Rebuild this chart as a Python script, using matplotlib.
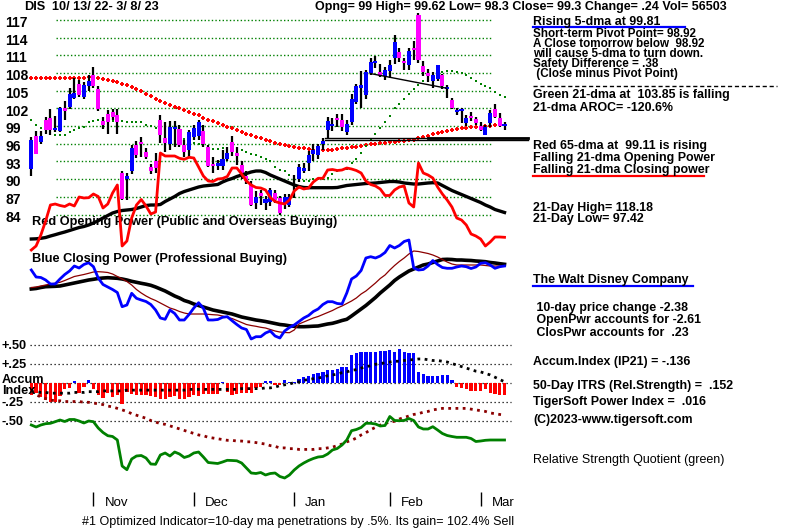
import matplotlib
matplotlib.use("Agg")
import matplotlib.pyplot as plt
from matplotlib.lines import Line2D
import numpy as np

# ---------------- data ----------------
days = np.arange(100)
month_starts = [13, 34, 55, 75, 94]
month_labels = ["Nov", "Dec", "Jan", "Feb", "Mar"]
price_levels = [84, 87, 90, 93, 96, 99, 102, 105, 108, 111, 114, 117]

opens = [91.7, 97.3, 96.3, 100.0, 100.4, 98.3, 98.2, 102.0, 102.3, 103.8,
         106.1, 103.9, 105.8, 107.6, 105.3, 99.8, 101.0, 101.4, 100.9, 91.0,
         90.0, 91.4, 95.8, 96.1, 94.6, 92.0, 93.0, 100.0, 97.0, 96.0,
         98.5, 98.5, 95.8, 95.0, 97.1, 97.3, 98.2, 95.4, 92.4, 92.3,
         92.2, 93.4, 96.3, 94.5, 92.4, 90.5, 89.2, 85.9, 87.6, 86.0,
         86.2, 87.6, 86.8, 85.9, 85.6, 88.9, 90.1, 91.3, 92.7, 94.2,
         94.1, 95.9, 98.3, 99.0, 100.3, 100.0, 97.9, 99.7, 103.0, 105.5,
         104.3, 108.0, 109.6, 108.2, 107.4, 108.3, 110.5, 111.5, 110.0, 109.4,
         112.2, 117.8, 109.1, 107.9, 106.7, 107.0, 107.6, 105.2, 103.4, 101.3,
         101.5, 99.5, 100.7, 100.2, 99.0, 97.5, 99.5, 101.9, 100.3, 99.0]
highs = [97.1, 98.2, 98.2, 100.6, 101.9, 100.7, 102.3, 103.2, 105.4, 107.1,
         106.8, 106.5, 107.6, 109.0, 105.8, 100.6, 101.7, 101.8, 101.8, 91.3,
         91.0, 95.7, 96.5, 97.1, 95.2, 92.6, 94.4, 100.9, 99.6, 99.8,
         99.9, 99.2, 96.6, 98.4, 99.2, 100.0, 99.2, 95.8, 93.8, 93.3,
         95.0, 95.4, 97.3, 95.4, 93.0, 91.3, 89.6, 88.0, 88.2, 87.2,
         88.5, 88.2, 87.2, 87.4, 87.5, 90.7, 92.6, 92.8, 94.8, 95.9,
         95.9, 96.9, 100.6, 100.3, 101.0, 101.0, 100.0, 104.5, 106.2, 108.4,
         108.5, 110.5, 110.8, 109.5, 109.0, 110.2, 114.4, 112.2, 110.6, 112.3,
         113.4, 118.2, 110.0, 108.6, 108.2, 109.3, 107.8, 106.0, 103.8, 102.0,
         102.0, 100.8, 101.4, 100.6, 99.6, 99.2, 101.7, 102.8, 101.2, 99.62]
lows = [90.6, 94.2, 96.0, 97.6, 97.5, 98.0, 97.9, 100.0, 101.9, 103.5,
        103.9, 103.5, 105.0, 105.5, 101.6, 98.5, 97.7, 100.0, 97.7, 86.5,
        86.5, 90.9, 93.5, 93.7, 93.4, 90.8, 91.0, 96.2, 94.6, 94.9,
        95.4, 95.4, 93.8, 93.8, 96.6, 96.6, 95.4, 92.1, 91.1, 91.5,
        91.5, 93.0, 94.0, 92.4, 90.0, 89.2, 85.5, 85.0, 85.6, 84.7,
        85.5, 86.0, 84.0, 85.0, 85.2, 86.8, 89.5, 91.0, 91.3, 93.0,
        93.4, 94.9, 96.9, 98.2, 98.9, 98.1, 97.5, 99.2, 102.7, 102.0,
        103.5, 107.6, 108.8, 107.3, 106.8, 107.1, 109.5, 109.9, 108.5, 108.5,
        110.2, 109.6, 107.5, 106.5, 105.5, 106.6, 105.3, 103.8, 101.8, 100.9,
        99.5, 99.0, 99.9, 99.1, 98.2, 97.42, 98.8, 100.3, 98.8, 98.3]
closes = [96.6, 94.3, 97.3, 98.3, 98.3, 98.7, 102.0, 101.6, 104.5, 104.6,
          104.2, 105.9, 106.6, 105.8, 101.8, 99.2, 99.6, 100.5, 99.7, 86.7,
          90.5, 95.2, 94.1, 95.9, 93.7, 91.4, 91.8, 97.5, 96.2, 98.9,
          98.7, 95.8, 94.6, 97.9, 98.6, 99.6, 96.0, 92.2, 92.2, 92.5,
          93.4, 94.5, 94.6, 93.9, 90.7, 89.6, 85.6, 87.0, 87.2, 86.6,
          88.2, 86.5, 84.3, 87.0, 87.0, 89.1, 92.1, 91.9, 94.0, 94.9,
          95.6, 96.5, 99.8, 99.4, 100.0, 98.9, 99.3, 103.6, 105.8, 106.0,
          108.1, 109.8, 109.9, 107.5, 108.5, 109.3, 113.2, 110.5, 109.7, 111.7,
          111.8, 110.2, 108.1, 107.5, 107.6, 109.3, 105.7, 105.4, 102.1, 101.7,
          101.6, 100.4, 100.4, 99.5, 98.3, 98.9, 101.2, 100.6, 99.06, 99.3]

ma65 = [107.1, 107.1, 107.2, 107.2, 107.2, 107.1, 107.1, 107.1, 107.1, 107.2,
        107.2, 107.2, 107.3, 107.3, 107.2, 107.0, 106.8, 106.6, 106.4, 106.1,
        105.9, 105.6, 105.3, 104.9, 104.5, 104.1, 103.6, 103.2, 102.9, 102.6,
        102.3, 102.0, 101.7, 101.4, 101.1, 100.8, 100.4, 100.1, 99.8, 99.5,
        99.2, 98.9, 98.6, 98.3, 98.0, 97.7, 97.4, 97.1, 96.9, 96.6,
        96.4, 96.2, 96.0, 95.8, 95.6, 95.4, 95.3, 95.2, 95.1, 95.0,
        94.9, 94.9, 95.0, 95.0, 95.1, 95.2, 95.3, 95.4, 95.5, 95.6,
        95.8, 95.9, 96.0, 96.1, 96.2, 96.3, 96.3, 96.4, 96.5, 96.6,
        96.7, 96.9, 97.1, 97.3, 97.6, 97.8, 98.0, 98.2, 98.4, 98.5,
        98.6, 98.7, 98.8, 98.9, 98.9, 99.0, 99.0, 99.1, 99.1, 99.11]
ma21 = [100.0, 99.2, 98.6, 97.9, 97.8, 97.5, 97.5, 97.5, 97.9, 98.3,
        98.6, 98.9, 99.6, 99.9, 100.0, 100.0, 99.9, 99.9, 99.8, 99.8,
        99.7, 99.7, 99.7, 99.7, 99.2, 99.0, 98.7, 98.5, 98.2, 97.7,
        97.2, 97.0, 96.8, 96.4, 96.1, 95.9, 95.6, 95.3, 95.1, 95.1,
        95.2, 95.2, 95.2, 95.1, 94.9, 94.6, 94.3, 94.1, 93.8, 93.4,
        93.0, 92.1, 91.5, 91.3, 90.7, 90.1, 89.7, 89.7, 89.7, 90.0,
        90.1, 90.1, 90.2, 90.8, 91.4, 91.5, 91.7, 92.7, 93.4, 94.5,
        95.6, 96.6, 97.6, 98.7, 99.7, 100.7, 102.0, 102.8, 103.6, 104.4,
        105.3, 106.0, 106.7, 107.4, 107.8, 108.1, 108.2, 108.3, 108.3, 108.1,
        107.9, 107.6, 107.2, 106.7, 106.2, 105.8, 105.5, 104.8, 104.3, 103.85]

# Opening power (arbitrary index units) and its moving average
open_power = [0, 4, 15, 29, 45, 46, 44.5, 43.5, 46, 44,
              53, 52, 52.3, 56, 53.5, 42, 46, 57, 65, 4,
              9, 32, 45, 50.5, 44, 36, 38, 97, 94, 94,
              94, 91.7, 90.7, 92.7, 92, 83, 74, 69, 68.5, 71,
              71.5, 73.5, 82, 82, 76, 69, 65, 62.5, 62, 60,
              52.5, 48.5, 47, 46, 50, 59, 63, 61, 62, 68,
              71.7, 71.7, 80, 80.5, 79.5, 80, 82, 81, 79.5, 77,
              69, 65.5, 64, 61, 54.5, 54.5, 60, 63, 64, 47,
              43, 87, 77, 75, 72, 63, 56, 50, 43, 32,
              30, 25, 16, 14, 11, 4, 8, 13, 13, 12.7]
open_power_ma = [11, 11.2, 11.7, 12.5, 14, 15.3, 16.7, 18, 19.5, 21,
                 22.5, 23.5, 25, 27, 29.3, 32, 34.5, 37, 38.5, 39.5,
                 40, 40.5, 41.5, 43, 44.5, 45, 45, 45.5, 48.5, 51,
                 53.5, 56.5, 58.5, 60, 61.5, 63, 64, 64.5, 65, 65.5,
                 68, 70, 71.5, 73.5, 75, 76.5, 78, 79, 79, 77.5,
                 75, 73, 71, 69, 67, 65, 63.5, 62.5, 62.3, 62.3,
                 62.3, 62.3, 62.3, 62.3, 62.5, 63.5, 64.5, 65, 65.5, 66,
                 66.5, 66.7, 67, 67.5, 68, 68.5, 68.5, 68, 67, 66.5,
                 66, 66, 66.5, 67, 67.3, 67, 64.5, 62, 59.5, 57.5,
                 55.5, 53.5, 51.5, 49.5, 47.5, 45, 43, 40.5, 39, 37.5]

# Closing power (arbitrary index units), its long MA (black) and short MA (dark red)
close_power = [70, 63, 62.5, 60, 56, 56, 61, 65.5, 69, 74,
               72, 75.5, 77.3, 73.3, 62, 55.5, 53, 50.5, 47.5, 33.3,
               35, 46.7, 41.7, 40, 38.5, 35.5, 30, 22, 20.7, 30,
               26.5, 20, 20, 25.5, 32, 37.3, 31.7, 20, 20, 20.5,
               22.7, 23.3, 19.3, 15.5, 12, 10.5, 1, 3.3, 3.3, 7,
               9, 4, 2, 9, 12.5, 15, 18.5, 22, 24.5, 28.5,
               31, 35.5, 38.3, 38.3, 36.5, 36, 47, 61, 64, 69.5,
               82, 83.3, 82, 84, 87.5, 94.5, 92, 94.5, 98.5, 100,
               72, 70, 70.5, 74, 79.5, 75.5, 72.5, 71.7, 71.7, 73,
               74, 73.3, 71.5, 73, 76.7, 77.3, 75, 71.7, 73.3, 74]
close_power_ma_long = [51, 51.5, 52.5, 53.3, 53.5, 53.7, 54, 55, 56, 57,
                       58, 59, 60, 60.7, 61.5, 62, 62.3, 62, 61.7, 61,
                       60, 58.7, 57.7, 56.7, 55.8, 54.7, 53, 51, 49, 46.5,
                       44, 42, 39.5, 38, 36, 34.5, 33, 31.5, 30, 29,
                       28, 27, 26, 24.5, 23, 22, 21, 20, 19.3, 18.5,
                       17.5, 16.5, 15.5, 15, 14.2, 13.7, 13.3, 13.3, 13.5, 13.8,
                       14, 15, 16, 16.7, 18, 19.5, 20.7, 24, 27.5, 31,
                       34.5, 38.5, 42.5, 47, 51, 55, 59.5, 63, 66, 69,
                       71, 73, 75, 76, 77.5, 79, 80.5, 80.7, 80.5, 80,
                       80, 79.7, 79.5, 79, 78.7, 78.3, 77.5, 77, 76.3, 75.7]
close_power_ma_short = [52.5, 53, 54, 55, 56, 56.8, 57.7, 59.5, 61.5, 63.5,
                        64.5, 65.5, 66.7, 68, 68.3, 68, 67.5, 66, 63.5, 61,
                        58.5, 55, 50.5, 47, 44, 41.5, 39.5, 37, 34.5, 32,
                        30.5, 28.5, 27, 26, 26, 26, 26, 25.7, 25.3, 25,
                        24, 22.5, 21.5, 19.5, 17.5, 15.5, 14.5, 13.7, 12.7, 12,
                        10.5, 9, 8, 7.5, 7.3, 10, 16, 18, 20, 22,
                        23.5, 25.5, 27.5, 29.5, 32, 34, 36.5, 39, 42, 46,
                        49, 53, 57, 61.5, 65, 70, 74.5, 78.5, 82, 86,
                        89, 88.5, 87.5, 86.5, 85, 83, 80.5, 78, 76, 75,
                        75, 75, 75, 75, 75, 74.5, 74, 74, 74, 74]

# Accumulation index (IP21) and its averages
accum = [-0.15, -0.13, -0.18, -0.22, -0.24, -0.24, -0.17, -0.07, -0.06, 0.03,
         -0.13, -0.05, 0.04, -0.08, -0.15, -0.19, -0.13, -0.18, -0.16, -0.27,
         -0.12, -0.14, -0.16, -0.16, -0.15, -0.17, -0.18, -0.21, -0.21, -0.18,
         -0.17, -0.20, -0.21, -0.18, -0.15, -0.17, -0.14, -0.14, -0.14, -0.14,
         0.02, -0.12, -0.15, -0.14, -0.13, -0.13, -0.13, -0.06, -0.05, 0.03,
         0.03, -0.02, -0.02, 0.04, 0.02, 0.02, 0.06, 0.08, 0.10, 0.12,
         0.13, 0.15, 0.17, 0.18, 0.19, 0.21, 0.22, 0.37, 0.40, 0.41,
         0.41, 0.41, 0.41, 0.42, 0.43, 0.44, 0.41, 0.45, 0.41, 0.40,
         0.40, 0.15, 0.12, 0.09, 0.10, 0.10, 0.11, 0.11, 0.04, -0.05,
         -0.06, -0.08, -0.10, -0.10, -0.10, -0.08, -0.13, -0.14, -0.15, -0.16]
accum_ma = [-0.11, -0.11, -0.12, -0.12, -0.13, -0.13, -0.13, -0.13, -0.13, -0.12,
            -0.12, -0.12, -0.11, -0.11, -0.11, -0.10, -0.10, -0.10, -0.10, -0.10,
            -0.09, -0.09, -0.09, -0.09, -0.09, -0.09, -0.09, -0.09, -0.09, -0.09,
            -0.09, -0.09, -0.09, -0.08, -0.08, -0.08, -0.08, -0.08, -0.08, -0.08,
            -0.08, -0.08, -0.08, -0.08, -0.07, -0.07, -0.07, -0.07, -0.07, -0.06,
            -0.06, -0.05, -0.03, -0.02, -0.01, 0.01, 0.02, 0.04, 0.05, 0.06,
            0.07, 0.08, 0.10, 0.11, 0.12, 0.14, 0.15, 0.17, 0.18, 0.20,
            0.22, 0.23, 0.25, 0.26, 0.27, 0.28, 0.29, 0.29, 0.30, 0.31,
            0.31, 0.32, 0.32, 0.31, 0.30, 0.30, 0.29, 0.28, 0.26, 0.24,
            0.22, 0.20, 0.18, 0.16, 0.15, 0.13, 0.11, 0.08, 0.05, 0.02]
accum_long = [-0.11, -0.15, -0.18, -0.20, -0.22, -0.23, -0.23, -0.24, -0.24, -0.24,
              -0.24, -0.25, -0.25, -0.26, -0.27, -0.28, -0.30, -0.31, -0.33, -0.35,
              -0.37, -0.40, -0.42, -0.44, -0.46, -0.49, -0.51, -0.53, -0.54, -0.56,
              -0.58, -0.60, -0.62, -0.64, -0.66, -0.68, -0.69, -0.71, -0.72, -0.73,
              -0.74, -0.75, -0.75, -0.76, -0.76, -0.77, -0.77, -0.78, -0.79, -0.80,
              -0.82, -0.83, -0.85, -0.85, -0.86, -0.86, -0.87, -0.87, -0.87, -0.87,
              -0.86, -0.86, -0.85, -0.84, -0.82, -0.80, -0.77, -0.75, -0.72, -0.68,
              -0.65, -0.61, -0.58, -0.55, -0.53, -0.51, -0.50, -0.47, -0.45, -0.43,
              -0.41, -0.40, -0.38, -0.37, -0.35, -0.34, -0.33, -0.33, -0.33, -0.33,
              -0.33, -0.33, -0.34, -0.35, -0.36, -0.37, -0.39, -0.40, -0.41, -0.42]
accum_levels = [0.5, 0.25, 0.0, -0.25, -0.5]

# Relative strength quotient (arbitrary units)
rsq = [75, 73, 75, 76.3, 76.7, 78.3, 80, 78.5, 80.5, 80.5,
       79, 77, 79, 78.3, 72, 67.5, 64.3, 63.5, 60, 34,
       30.3, 41, 44, 44.5, 42, 36, 35.7, 45, 47, 44,
       48, 46, 42.5, 44, 47, 48, 43, 37.5, 37, 36.5,
       38, 39.7, 39.5, 39.2, 37, 32, 27, 26.5, 27.5, 25,
       26.5, 27, 23.5, 22, 25, 30, 34, 37, 39.5, 41.5,
       43, 43.5, 46, 50, 51.5, 55, 60, 69.3, 70.5, 72.5,
       76.7, 76.7, 76, 74, 74.5, 83.5, 79.5, 79.3, 79.5, 81.5,
       79.5, 73, 71, 71, 73.3, 70, 66.5, 64.5, 63.5, 62.7,
       62.7, 62.7, 61.5, 58.5, 59, 59.7, 60, 60, 60, 60]

# trendlines drawn on the price panel (day, price)
support_days = [61.5, 104.0]
support_upper = [97.0, 97.0]
support_lower = [96.6, 96.6]
support_heavy_days = [83.0, 104.0]
neck_days = [70.9, 86.9]
neck_prices = [107.9, 105.4]

# ---------------- figure ----------------
W, H = 800, 530
fig = plt.figure(figsize=(8, 5.3), dpi=100)
fig.patch.set_facecolor("white")

PX0, PXD = 31.3, 4.78          # pixel position of day 0, pixels per day
XL = (-PX0 / PXD, (W - PX0) / PXD)


def make_ax(ylim, z):
    ax = fig.add_axes([0, 0, 1, 1], zorder=z)
    ax.set_xlim(*XL)
    ax.set_ylim(*ylim)
    ax.axis("off")
    ax.patch.set_alpha(0)
    return ax


ax_p = make_ax((99 - (H - 126) / 5.9, 99 + 126 / 5.9), 3)
ax_op = make_ax((250 - H, 250), 4)
ax_cp = make_ax((340 - H, 340), 2)
ax_ac = make_ax(((383.3 - H) / 76.0, 383.3 / 76.0), 2)
ax_rs = make_ax((500 - H, 500), 2)

FONT = ["Liberation Sans", "DejaVu Sans"]
GREEN = "#008000"

# price grid
ax_p.hlines(price_levels, 5.2, 96.2, colors=GREEN, linestyles=(0, (1, 1.6)), lw=1.0, zorder=1)
for lv in price_levels:
    ax_p.text(5 / W, lv - 0.55, str(lv), transform=ax_p.get_yaxis_transform(),
              family=FONT, weight="bold", fontsize=10, va="center", ha="left")

# moving averages on price
ax_p.plot(days, ma65, ls="none", marker="+", ms=2.8, mew=1.4, color="#ff0000", zorder=2)
ax_p.plot(days, ma21, ls="none", marker="s", ms=1.8, mew=0, color=GREEN, zorder=2)

# candles
o = np.array(opens); c = np.array(closes); hi = np.array(highs); lo = np.array(lows)
up = c >= o
ax_p.vlines(days, lo, hi, colors="black", lw=1.6, zorder=3)
body_lo = np.minimum(o, c)
body_h = np.maximum(np.abs(c - o), 0.35)
ax_p.bar(days[up], body_h[up], bottom=body_lo[up], width=0.85, color="#0000ff", zorder=4)
ax_p.bar(days[~up], body_h[~up], bottom=body_lo[~up], width=0.85, color="#ff00ff", zorder=4)

# trendlines
ax_p.plot(support_days, support_upper, color="black", lw=1.0, zorder=5)
ax_p.plot(support_days, support_lower, color="black", lw=1.0, zorder=5)
ax_p.plot(support_heavy_days, support_upper, color="black", lw=2.0, zorder=5)
ax_p.plot(neck_days, neck_prices, color="black", lw=1.0, zorder=5)

# opening power
ax_op.plot(days, open_power_ma, color="black", lw=2.4, zorder=1)
ax_op.plot(days, open_power, color="#ff0000", lw=2.0, zorder=2)

# closing power
ax_cp.plot(days, close_power_ma_long, color="black", lw=2.6, zorder=1)
ax_cp.plot(days, close_power_ma_short, color="#8b0000", lw=0.9, zorder=2)
ax_cp.plot(days, close_power, color="#0000ff", lw=2.0, zorder=3)

# accumulation index
ax_ac.hlines(accum_levels, -0.3, 100.3, colors="black", linestyles=(0, (1, 2.2)), lw=0.9)
acc = np.array(accum)
ax_ac.bar(days, acc, width=0.68, color=np.where(acc >= 0, "#0000ff", "#ff0000"), zorder=2)
ax_ac.plot(days, accum_ma, color="black", lw=2.0, ls=(0, (1, 1.6)), zorder=3)
ax_ac.plot(days, accum_long, color="#8b0000", lw=2.0, ls=(0, (1, 1.6)), zorder=3)

# relative strength quotient
ax_rs.plot(days, rsq, color=GREEN, lw=2.0)

# month ticks & labels
ax_rs.vlines(month_starts, -6, 8, colors="black", lw=1.0)
for d, lab in zip(month_starts, month_labels):
    ax_rs.text(d + 2.3, -3.5, lab, family=FONT, fontsize=9.5, va="center", ha="left")


# ---------------- texts ----------------
def ftext(x, y, s, bold=True, size=8.9, color="black"):
    fig.text(x / W, 1 - y / H, s, family=FONT, weight="bold" if bold else "normal",
             fontsize=size, va="center", ha="left", color=color)


def fline(x0, x1, y, color, lw=1.5, ls="-"):
    fig.add_artist(Line2D([x0 / W, x1 / W], [1 - y / H, 1 - y / H], color=color,
                          lw=lw, ls=ls, transform=fig.transFigure))


ftext(24, 7, "DIS", size=9.2)
ftext(52, 7, "10/ 13/ 22- 3/ 8/ 23", size=9.2)
ftext(315, 7, "Opng= 99 High= 99.62 Low= 98.3 Close= 99.3 Change= .24 Vol= 56503", size=9.0)

right_texts = [
    ("Rising 5-dma at 99.81", 22, 8.9),
    ("Short-term Pivot Point= 98.92", 34, 8.4),
    ("A Close tomorrow below  98.92", 44.3, 8.4),
    ("will cause 5-dma to turn down.", 54.3, 8.4),
    ("Safety Difference = .38", 64.3, 8.4),
    (" (Close minus Pivot Point)", 74.5, 8.4),
    ("Green 21-dma at  103.85 is falling", 95, 8.9),
    ("21-dma AROC= -120.6%", 108, 8.9),
    ("Red 65-dma at  99.11 is rising", 146, 8.9),
    ("Falling 21-dma Opening Power", 158, 8.9),
    ("Falling 21-dma Closing power", 170.5, 8.9),
    ("21-Day High= 118.18", 207.5, 8.9),
    ("21-Day Low= 97.42", 219, 8.9),
    ("The Walt Disney Company", 280, 8.9),
    (" 10-day price change -2.38", 308, 8.9),
    (" OpenPwr accounts for -2.61", 320.5, 8.9),
    (" ClosPwr accounts for  .23", 333, 8.9),
    ("Accum.Index (IP21) = -.136", 361.5, 8.9),
    ("50-Day ITRS (Rel.Strength) =  .152", 386.5, 8.9),
    ("TigerSoft Power Index =  .016", 401.5, 8.9),
    ("(C)2023-www.tigersoft.com", 420, 8.9),
]
for s, y, sz in right_texts:
    ftext(533, y, s, size=sz)
ftext(533, 460, "Relative Strength Quotient (green)", bold=False, size=9.0)

fline(533, 685, 26.5, "#0000ff", lw=1.6)
fline(533, 777, 86, "black", lw=1.0, ls=(0, (3, 2)))
fline(533, 704, 176, "#ff0000", lw=1.6)
fline(533, 693, 286, "#0000ff", lw=1.6)

ftext(32, 222, "Red Opening Power (Public and Overseas Buying)", size=9.2)
ftext(32, 259, "Blue Closing Power (Professional Buying)", size=9.2)

for s, y in [("+.50", 346), ("+.25", 365), ("Accum", 380), ("Index", 391), ("-.25", 403), ("-.50", 422)]:
    ftext(2, y, s, size=9.2)

ftext(82, 522.5, "#1 Optimized Indicator=10-day ma penetrations by .5%. Its gain= 102.4% Sell",
      bold=False, size=9.0)

fig.savefig("out.png", dpi=100, facecolor="white")
